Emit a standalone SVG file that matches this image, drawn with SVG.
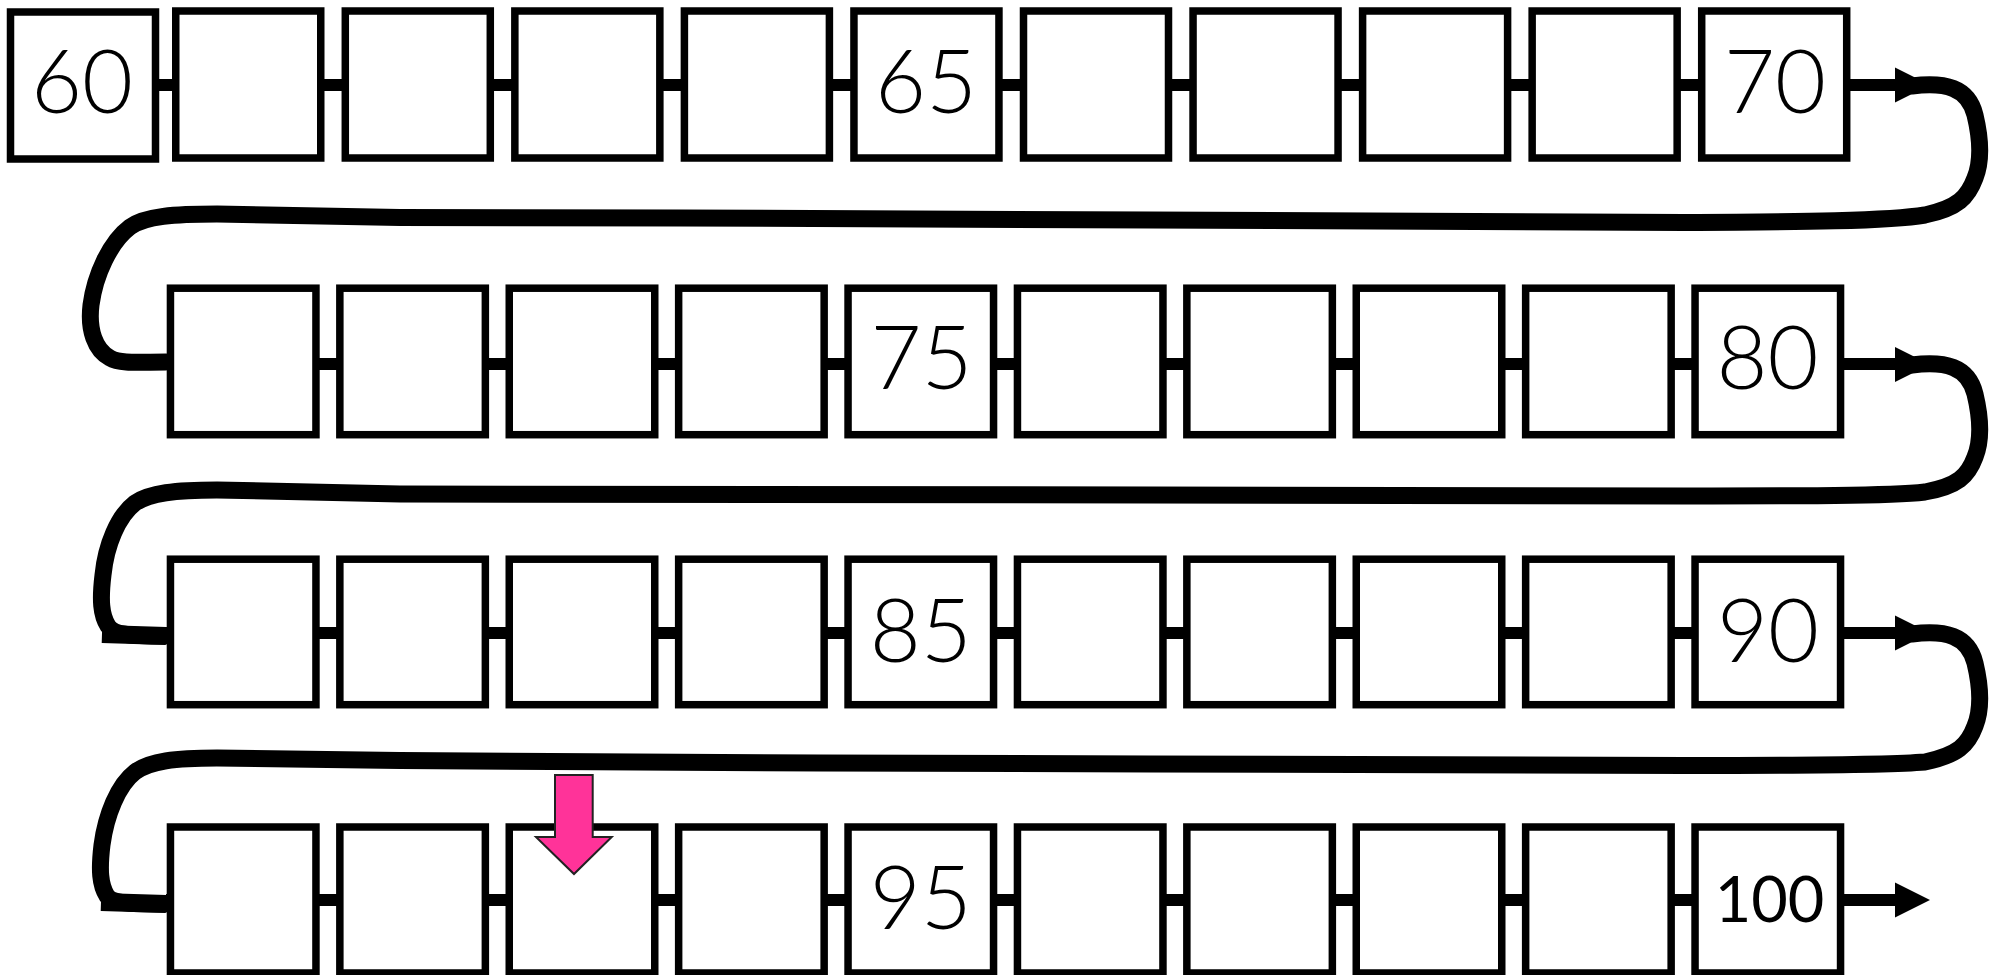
<svg xmlns="http://www.w3.org/2000/svg" width="2001" height="975" viewBox="0 0 2001 975">
<style>
  .box { fill: #fff; stroke: #000; stroke-width: 7.5; }
  .num { font-family: Lato, "Open Sans", "Noto Sans", "Liberation Sans", sans-serif; font-weight: 300; font-size: 88px; text-anchor: middle; fill: #000; }
  .small { font-size: 63px; font-weight: 400; }
  .link { fill: none; stroke: #000; stroke-width: 12; }
  .loop { fill: none; stroke: #000; stroke-width: 17; stroke-linejoin: round; stroke-linecap: round; }
  .nub { fill: none; stroke: #000; stroke-width: 18; stroke-linecap: butt; }
  .head { fill: #000; }
</style>
<rect x="0" y="0" width="2001" height="975" fill="#fff"/>
<g id="connectors">
  <line class="link" x1="83" y1="85" x2="1897" y2="85"/>
  <line class="link" x1="166" y1="364" x2="1897" y2="364"/>
  <line class="link" x1="166" y1="633" x2="1897" y2="633"/>
  <line class="link" x1="166" y1="900" x2="1897" y2="900"/>
  <polygon class="head" points="1895,67.5 1930,85 1895,102.5"/>
  <polygon class="head" points="1895,347 1930,364.5 1895,382"/>
  <polygon class="head" points="1895,615.5 1930,633 1895,650.5"/>
  <polygon class="head" points="1895,882.5 1930,900 1895,917.5"/>
  <path class="loop" d="M 1912,86 C 1945,82 1968,87 1975,115 C 1981,140 1981,163 1975,178 C 1968,197 1958,208 1925,215 C 1890,221 1800,222 1684,222.5 L 1150,220 L 680,218 L 400,217.5 L 217,214 C 175,214 145,216 130,227 C 110,242 95,275 91,305 C 88,330 95,350 110,358 C 120,364 140,362 166,362"/>
  <path class="loop" d="M 1912,365 C 1945,361 1968,366 1975,394 C 1981,419 1981,442 1975,457 C 1968,476 1958,486 1925,492 C 1890,496 1800,496 1684,496 L 1150,495 L 400,494 L 217,490 C 175,490 150,493 135,503 C 118,516 106,545 103,575 C 100,600 101,615 108,626 C 113,634 125,636 166,636"/>
  <line class="nub" x1="102" y1="634" x2="166" y2="636"/>
  <path class="loop" d="M 1912,634 C 1945,630 1968,635 1975,663 C 1981,688 1981,711 1975,726 C 1968,745 1958,755 1925,762 C 1890,765 1800,765.5 1684,765.5 L 1150,764 L 820,763 L 400,760.5 L 217,758 C 175,758 150,761 135,772 C 118,785 106,815 102,845 C 99,870 100,885 107,896 C 112,903 125,904 166,904"/>
  <line class="nub" x1="101" y1="902" x2="166" y2="904"/>
</g>
<g id="n60"><rect class="box" x="10.5" y="12" width="145" height="147"/><text class="num" x="82" y="113">60</text></g>
<g id="n61"><rect class="box" x="175.75" y="11" width="145" height="147"/></g>
<g id="n62"><rect class="box" x="345.3" y="11" width="145" height="147"/></g>
<g id="n63"><rect class="box" x="514.85" y="11" width="145" height="147"/></g>
<g id="n64"><rect class="box" x="684.4" y="11" width="145" height="147"/></g>
<g id="n65"><rect class="box" x="853.95" y="11" width="145" height="147"/><text class="num" x="926" y="113">65</text></g>
<g id="n66"><rect class="box" x="1023.5" y="11" width="145" height="147"/></g>
<g id="n67"><rect class="box" x="1193.05" y="11" width="145" height="147"/></g>
<g id="n68"><rect class="box" x="1362.6" y="11" width="145" height="147"/></g>
<g id="n69"><rect class="box" x="1532.15" y="11" width="145" height="147"/></g>
<g id="n70"><rect class="box" x="1701.7" y="11" width="145" height="147"/><text class="num" x="1775" y="113">70</text></g>

<g id="n71"><rect class="box" x="170.45" y="288.2" width="145.5" height="146.5"/></g>
<g id="n72"><rect class="box" x="339.85" y="288.2" width="145.5" height="146.5"/></g>
<g id="n73"><rect class="box" x="509.25" y="288.2" width="145.5" height="146.5"/></g>
<g id="n74"><rect class="box" x="678.65" y="288.2" width="145.5" height="146.5"/></g>
<g id="n75"><rect class="box" x="848.05" y="288.2" width="145.5" height="146.5"/><text class="num" x="921.5" y="389">75</text></g>
<g id="n76"><rect class="box" x="1017.45" y="288.2" width="145.5" height="146.5"/></g>
<g id="n77"><rect class="box" x="1186.85" y="288.2" width="145.5" height="146.5"/></g>
<g id="n78"><rect class="box" x="1356.25" y="288.2" width="145.5" height="146.5"/></g>
<g id="n79"><rect class="box" x="1525.65" y="288.2" width="145.5" height="146.5"/></g>
<g id="n80"><rect class="box" x="1695.05" y="288.2" width="145.5" height="146.5"/><text class="num" x="1767.5" y="389">80</text></g>

<g id="n81"><rect class="box" x="170.45" y="559.2" width="145.5" height="145.5"/></g>
<g id="n82"><rect class="box" x="339.85" y="559.2" width="145.5" height="145.5"/></g>
<g id="n83"><rect class="box" x="509.25" y="559.2" width="145.5" height="145.5"/></g>
<g id="n84"><rect class="box" x="678.65" y="559.2" width="145.5" height="145.5"/></g>
<g id="n85"><rect class="box" x="848.05" y="559.2" width="145.5" height="145.5"/><text class="num" x="920.8" y="661.5">85</text></g>
<g id="n86"><rect class="box" x="1017.45" y="559.2" width="145.5" height="145.5"/></g>
<g id="n87"><rect class="box" x="1186.85" y="559.2" width="145.5" height="145.5"/></g>
<g id="n88"><rect class="box" x="1356.25" y="559.2" width="145.5" height="145.5"/></g>
<g id="n89"><rect class="box" x="1525.65" y="559.2" width="145.5" height="145.5"/></g>
<g id="n90"><rect class="box" x="1695.05" y="559.2" width="145.5" height="145.5"/><text class="num" x="1768" y="661.5">90</text></g>

<g id="n91"><rect class="box" x="170.45" y="827" width="145.5" height="146"/></g>
<g id="n92"><rect class="box" x="339.85" y="827" width="145.5" height="146"/></g>
<g id="n93"><rect class="box" x="509.25" y="827" width="145.5" height="146"/></g>
<g id="n94"><rect class="box" x="678.65" y="827" width="145.5" height="146"/></g>
<g id="n95"><rect class="box" x="848.05" y="827" width="145.5" height="146"/><text class="num" x="920.8" y="929">95</text></g>
<g id="n96"><rect class="box" x="1017.45" y="827" width="145.5" height="146"/></g>
<g id="n97"><rect class="box" x="1186.85" y="827" width="145.5" height="146"/></g>
<g id="n98"><rect class="box" x="1356.25" y="827" width="145.5" height="146"/></g>
<g id="n99"><rect class="box" x="1525.65" y="827" width="145.5" height="146"/></g>
<g id="n100"><rect class="box" x="1695.05" y="827" width="145.5" height="146"/><text class="num small" x="1769.5" y="921.7">100</text></g>

<g id="pointer">
  <polygon points="555,775 592.7,775 592.7,837 611.7,837 574,874 536,837 555,837" fill="#ff3399" stroke="#222" stroke-width="2" stroke-linejoin="miter"/>
</g>
</svg>
